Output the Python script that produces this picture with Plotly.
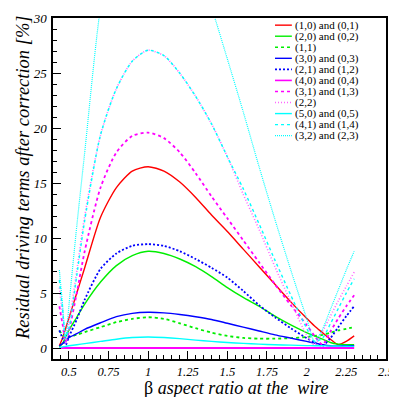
import plotly.graph_objects as go

# beta grid (aspect ratio at the wire)
beta = [0.44, 0.46, 0.48, 0.50, 0.55, 0.60, 0.70, 0.80, 0.90, 1.00, 1.10, 1.20, 1.30,
        1.40, 1.50, 1.60, 1.70, 1.80, 1.90, 2.00, 2.05, 2.10, 2.15, 2.20, 2.25, 2.30]

# residual driving terms [%]
r10 = [0.2, 0.9, 1.8, 2.7, 5.0, 7.3, 11.9, 14.6, 16.1, 16.5, 16.1, 15.1, 13.7,
       12.1, 10.6, 9.0, 7.4, 5.8, 4.2, 2.7, 2.0, 1.4, 0.8, 0.3, 0.6, 1.1]
r20 = [0.1, 0.4, 1.0, 1.6, 2.8, 4.0, 6.0, 7.5, 8.4, 8.8, 8.6, 8.1, 7.4,
       6.5, 5.5, 4.6, 3.8, 2.9, 2.1, 1.4, 1.1, 0.8, 0.5, 0.35, 0.3, 0.3]
r11 = [1.6, 1.2, 0.9, 1.0, 1.2, 1.45, 1.9, 2.35, 2.65, 2.8, 2.65, 2.25, 1.8,
       1.4, 1.1, 0.92, 0.85, 0.85, 0.9, 1.0, 1.1, 1.2, 1.4, 1.6, 1.75, 1.9]
r30 = [0.2, 0.4, 0.65, 0.95, 1.3, 1.7, 2.3, 2.85, 3.15, 3.25, 3.2, 3.05, 2.85,
       2.6, 2.25, 1.9, 1.55, 1.2, 0.9, 0.6, 0.45, 0.3, 0.2, 0.2, 0.2, 0.2]
r21 = [1.6, 0.9, 0.3, 1.0, 2.6, 4.4, 7.2, 8.6, 9.3, 9.45, 9.3, 8.8, 8.1,
       7.3, 6.4, 5.2, 3.9, 2.8, 1.8, 0.9, 0.5, 0.2, 0.9, 1.9, 2.9, 3.8]
r40 = [0.0, 0.0, 0.0, 0.0, 0.0, 0.0, 0.0, 0.0, 0.0, 0.0, 0.0, 0.0, 0.0,
       0.0, 0.0, 0.0, 0.0, 0.0, 0.0, 0.0, 0.0, 0.0, 0.0, 0.0, 0.0, 0.0]
r31 = [3.8, 2.2, 0.6, 1.5, 5.0, 8.8, 14.6, 17.8, 19.3, 19.6, 19.1, 17.8, 15.9,
       13.8, 11.8, 9.8, 7.8, 5.8, 3.9, 2.1, 1.1, 0.3, 1.5, 2.7, 3.8, 4.8]
r22 = [5.5, 3.0, 0.4, 2.2, 7.0, 12.0, 19.4, 23.6, 26.1, 27.1, 26.6, 25.0, 22.9,
       20.4, 17.4, 14.0, 10.8, 7.4, 4.2, 1.2, 0.3, 1.5, 2.9, 4.3, 5.6, 6.9]
r50 = [0.05, 0.1, 0.15, 0.2, 0.3, 0.4, 0.6, 0.8, 0.95, 1.0, 0.95, 0.85, 0.72,
       0.6, 0.5, 0.42, 0.35, 0.3, 0.26, 0.22, 0.21, 0.2, 0.19, 0.18, 0.16, 0.15]
r41 = [6.2, 3.6, 1.0, 1.7, 6.6, 11.6, 19.4, 23.6, 26.1, 27.1, 26.6, 25.0, 22.9,
       20.4, 17.4, 14.5, 11.3, 8.0, 4.8, 1.8, 0.6, 0.9, 2.2, 3.6, 5.0, 6.3]
r32 = [7.1, 4.0, 0.8, 3.8, 11.1, 17.8, 31.0, 38.0, 42.0, 43.0, 42.0, 39.0, 35.0,
       31.0, 26.3, 21.5, 16.5, 11.7, 7.1, 2.7, 0.6, 1.7, 3.5, 5.3, 7.1, 8.8]

labels = ["(1,0) and (0,1)", "(2,0) and (0,2)", "(1,1)", "(3,0) and (0,3)",
          "(2,1) and (1,2)", "(4,0) and (0,4)", "(3,1) and (1,3)", "(2,2)",
          "(5,0) and (0,5)", "(4,1) and (1,4)", "(3,2) and (2,3)"]
series = [r10, r20, r11, r30, r21, r40, r31, r22, r50, r41, r32]
colors = ["#ff0000", "#00ee00", "#00ee00", "#0000ff", "#0000ff", "#ff00ff",
          "#ff00ff", "#ff66ff", "#00ffff", "#00ffff", "#00ffff"]
dashes = ["solid", "solid", "3px,3px", "solid", "2px,2px", "solid",
          "3px,3px", "1px,2px", "solid", "3px,3px", "1px,1px"]
widths = [1.4, 1.4, 1.8, 1.4, 1.8, 2.2, 1.8, 1.6, 1.4, 1.4, 1.2]

x_ticks = [0.5, 0.75, 1, 1.25, 1.5, 1.75, 2, 2.25, 2.5]
x_ticklabels = ["0.5", "0.75", "1", "1.25", "1.5", "1.75", "2", "2.25", "2.5"]
y_ticks = [0, 5, 10, 15, 20, 25, 30]

fig = go.Figure()
for lab, ys, c, d, w in zip(labels, series, colors, dashes, widths):
    fig.add_trace(go.Scatter(x=beta, y=ys, mode="lines", name=lab,
                             line=dict(color=c, dash=d, width=w,
                                       shape="spline", smoothing=0.7),
                             showlegend=False))

FONT = "Liberation Serif, Times New Roman, serif"

# the page body adds an 8px offset; target window pixels are compensated
OFF = 8
FIG = 397 - OFF
# plot area in window pixels: x 53..389, y 11..359
L, R, T, B = 53, 389, 11, 359
W = R - L
H = B - T

def px2paper(px, py):
    return (px - L) / W, (B - py) / H

# manual legend (compact rows like the original)
row0 = 18.3
dy = 11.28
for i, (lab, c, d, w) in enumerate(zip(labels, colors, dashes, widths)):
    py = row0 + i * dy
    x0, yp = px2paper(277, py)
    x1, _ = px2paper(294, py)
    fig.add_shape(type="line", xref="paper", yref="paper", x0=x0, x1=x1, y0=yp, y1=yp,
                  line=dict(color=c, dash=d, width=min(w, 1.6)))
    xt, _ = px2paper(295, py)
    fig.add_annotation(xref="paper", yref="paper", x=xt, y=yp, text=lab, showarrow=False,
                       xanchor="left", yanchor="middle",
                       font=dict(family=FONT, size=11, color="black"))

# axis titles
xa, ya = px2paper(22, 174)
fig.add_annotation(xref="paper", yref="paper", x=xa, y=ya, textangle=-90,
                   text="<i>Residual driving terms after correction [%]</i>",
                   showarrow=False, xanchor="center", yanchor="middle",
                   font=dict(family=FONT, size=18.5, color="black"))
xb, yb = px2paper(238, 389)
fig.add_annotation(xref="paper", yref="paper", x=xb, y=yb,
                   text="β <i>aspect ratio at the&nbsp; wire</i>",
                   showarrow=False, xanchor="center", yanchor="middle",
                   font=dict(family=FONT, size=18, color="black"))

fig.update_layout(
    width=FIG, height=FIG,
    margin=dict(l=L - OFF, r=397 - R, t=T - OFF, b=397 - B),
    paper_bgcolor="white", plot_bgcolor="white",
    showlegend=False,
)
fig.update_xaxes(range=[0.4, 2.5008], tickvals=x_ticks, ticktext=x_ticklabels,
                 ticks="inside", ticklen=8, tickwidth=1, tickcolor="black",
                 minor=dict(dtick=0.05, tick0=0, ticks="inside", ticklen=4, tickcolor="black"),
                 showline=True, linecolor="black", linewidth=1.5, mirror=True,
                 showgrid=False, zeroline=False, ticklabeloverflow="allow",
                 ticklabelstandoff=0,
                 tickfont=dict(family=FONT, size=12.5, color="black", style="italic"))
fig.update_yaxes(range=[-1, 30.03], tickvals=y_ticks,
                 ticks="inside", ticklen=8, tickwidth=1, tickcolor="black",
                 minor=dict(dtick=1, tick0=0, ticks="inside", ticklen=4, tickcolor="black"),
                 showline=True, linecolor="black", linewidth=1.5, mirror=True,
                 showgrid=False, zeroline=False, ticklabelstandoff=2,
                 ticklabeloverflow="allow",
                 tickfont=dict(family=FONT, size=13, color="black", style="italic"))

fig.write_html("out.html")
